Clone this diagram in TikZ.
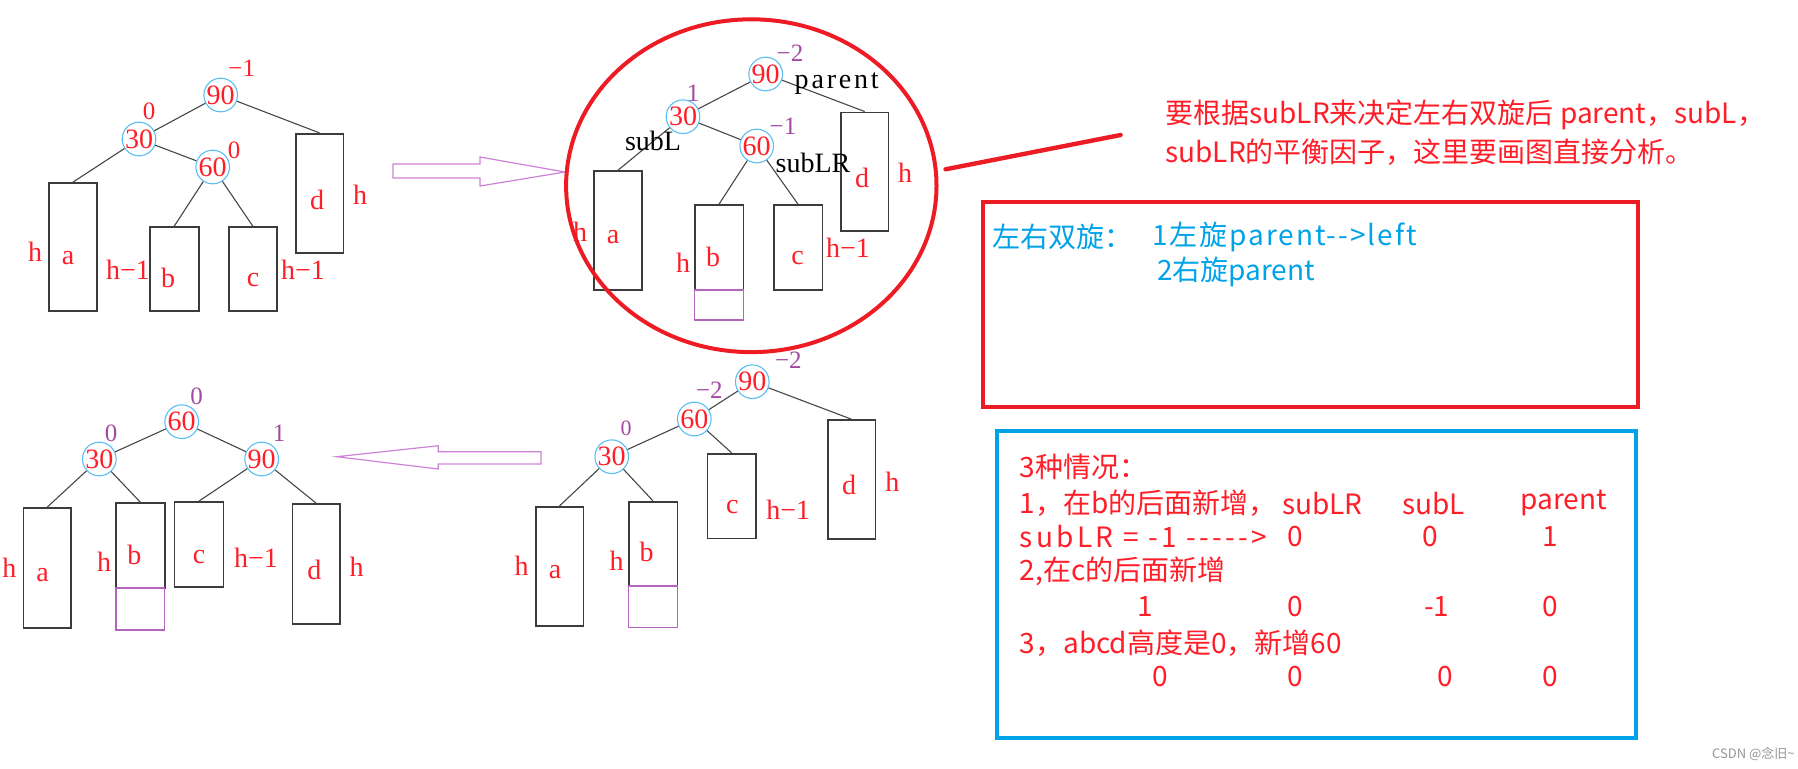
\documentclass[tikz,border=0pt]{standalone}
\usepackage{fontspec}
\setmainfont{Liberation Serif}
\newfontfamily\cjk{Noto Sans CJK SC}
\newfontfamily\cjkwide[LetterSpace=7]{Noto Sans CJK SC}
\newfontfamily\cjkmid[LetterSpace=12]{Noto Sans CJK SC}
\newfontfamily\spacedserif[LetterSpace=10]{Liberation Serif}
\usetikzlibrary{fit}
\definecolor{lblred}{RGB}{255,30,40}
\definecolor{framered}{RGB}{237,28,36}
\definecolor{numpurple}{RGB}{163,73,164}
\definecolor{arrowpurple}{RGB}{205,130,215}
\definecolor{addpurple}{RGB}{180,100,190}
\definecolor{circblue}{RGB}{90,190,240}
\definecolor{skyblue}{RGB}{0,162,232}
\definecolor{boxgray}{RGB}{60,60,60}
\definecolor{edgegray}{RGB}{70,70,70}
\definecolor{markgray}{RGB}{150,150,150}
\begin{document}
\begin{tikzpicture}[x=0.5pt,y=-0.5pt,
  treebox/.style={draw=boxgray, line width=0.8pt, inner sep=0pt},
  newbox/.style={draw=addpurple, line width=0.6pt, inner sep=0pt},
  vcirc/.style={circle, draw=circblue, line width=0.55pt, minimum size=15pt, inner sep=0pt, text=lblred, font=\fontsize{14pt}{14pt}\selectfont},
  balred/.style={inner sep=0pt, text=lblred, font=\fontsize{12.5pt}{12.5pt}\selectfont},
  balpur/.style={inner sep=0pt, text=numpurple, font=\fontsize{12.5pt}{12.5pt}\selectfont},
  lbl/.style={inner sep=0pt, text=lblred, font=\fontsize{14pt}{14pt}\selectfont},
  ptr/.style={inner sep=0pt, text=black, font=\fontsize{14pt}{14pt}\selectfont},
  edge/.style={draw=edgegray, line width=0.55pt},
  hollow/.style={draw=arrowpurple, line width=0.6pt},
  redtxt/.style={inner sep=0pt, anchor=west, text=lblred, font=\cjk\fontsize{14pt}{14pt}\selectfont},
  redcol/.style={inner sep=0pt, text=lblred, font=\cjk\fontsize{14pt}{14pt}\selectfont},
  bluetxt/.style={inner sep=0pt, anchor=west, text=skyblue, font=\cjk\fontsize{14pt}{14pt}\selectfont},
  frame/.style={line width=2pt, inner sep=0pt}
]
\useasboundingbox (0,0) rectangle (1798,768);

% ===== Tree 1 (top left) =====
\node[treebox, fit={(49,183) (96.7,311)}] (t1a) {};
\node[treebox, fit={(149.7,227) (198.7,311)}] (t1b) {};
\node[treebox, fit={(228.7,227) (277,311)}] (t1c) {};
\node[treebox, fit={(295.7,133.7) (343.3,252.7)}] (t1d) {};
\node[vcirc] (t1n90) at (220.7,95) {90};
\node[vcirc] (t1n30) at (139,139) {30};
\node[vcirc] (t1n60) at (212.7,167) {60};
\draw[edge] (t1n90) -- (t1n30);
\draw[edge] (t1n90) -- (t1d.north);
\draw[edge] (t1n30) -- (t1n60);
\draw[edge] (t1n30) -- (t1a.north);
\draw[edge] (t1n60) -- (t1b.north);
\draw[edge] (t1n60) -- (t1c.north);
\node[balred] (t1f90) at (241.7,68) {−1};
\node[balred] (t1f30) at (149,111) {0};
\node[balred] (t1f60) at (234,150) {0};
\node[lbl] (t1la) at (68,258) {a};
\node[lbl] (t1ha) at (35,252) {h};
\node[lbl] (t1lb) at (168,278) {b};
\node[lbl] (t1hb) at (128,270) {h−1};
\node[lbl] (t1lc) at (253,280) {c};
\node[lbl] (t1hc) at (303,270) {h−1};
\node[lbl] (t1ld) at (317,200) {d};
\node[lbl] (t1hd) at (360,195) {h};

% ===== arrow top =====
\draw[hollow] (393,164) -- (480,164) -- (480,157) -- (565,172) -- (480,186) -- (480,178) -- (393,178) -- cycle;

% ===== Tree 2 (top middle) =====
\node[treebox, fit={(594,171) (642,290)}] (t2a) {};
\node[treebox, fit={(694.7,205) (743.3,290)}] (t2b) {};
\node[newbox, fit={(694.7,290) (743.3,320)}] (t2new) {};
\node[treebox, fit={(773.7,205) (822.3,290)}] (t2c) {};
\node[treebox, fit={(841,112.3) (888.3,231)}] (t2d) {};
\node[vcirc] (t2n90) at (765.7,74) {90};
\node[vcirc] (t2n30) at (683,116.7) {30};
\node[vcirc] (t2n60) at (756.7,146) {60};
\draw[edge] (t2n90) -- (t2n30);
\draw[edge] (t2n90) -- (t2d.north);
\draw[edge] (t2n30) -- (t2n60);
\draw[edge] (t2n30) -- (t2a.north);
\draw[edge] (t2n60) -- (t2b.north);
\draw[edge] (t2n60) -- (t2c.north);
\node[balpur] (t2f90) at (790,53) {−2};
\node[balpur] (t2f30) at (693,93) {1};
\node[balpur] (t2f60) at (783,126.7) {−1};
\node[ptr, font=\spacedserif\fontsize{14pt}{14pt}\selectfont] (t2parent) at (836.7,84) {parent};
\node[ptr] (t2subL) at (653,141) {subL};
\node[ptr] (t2subLR) at (813,163) {subLR};
\node[lbl] (t2la) at (613,237) {a};
\node[lbl] (t2ha) at (580,231.7) {h};
\node[lbl] (t2lb) at (713,257) {b};
\node[lbl] (t2hb) at (683,263) {h};
\node[lbl] (t2lc) at (797.7,258) {c};
\node[lbl] (t2hc) at (848,248) {h−1};
\node[lbl] (t2ld) at (862,178) {d};
\node[lbl] (t2hd) at (905,173) {h};
\draw[framered, line width=2pt] (751.3,185.7) ellipse [x radius=92.6pt, y radius=83.2pt];

% ===== red pointer line and note =====
\coordinate (lineA) at (945.5,169.3);
\coordinate (lineB) at (1120.6,135);
\draw[framered, line width=2.2pt, line cap=round] (lineA) -- (lineB);
\node[redtxt] (note1) at (1165,115) {要根据subLR来决定左右双旋后 parent，subL，};
\node[redtxt] (note2) at (1165,152) {subLR的平衡因子，这里要画图直接分析。};

% ===== red frame =====
\node[frame, draw=framered, fit={(982.7,202) (1637.7,407.3)}] (redframe) {};
\node[bluetxt] (blue1) at (991.7,236.7) {左右双旋：};
\node[bluetxt, font=\cjkwide\fontsize{14pt}{14pt}\selectfont] (blue2) at (1151.7,236.7) {1左旋parent-{}->left};
\node[bluetxt] (blue3) at (1156.7,271.7) {2右旋parent};

% ===== blue frame =====
\node[frame, draw=skyblue, fit={(996.5,431) (1636,738)}] (blueframe) {};
\node[redtxt] (r1) at (1019.3,466.7) {3种情况：};
\node[redtxt] (r2) at (1019.3,503.3) {1，在b的后面新增，};
\node[redtxt] (r2a) at (1281.7,503.3) {subLR};
\node[redtxt] (r2b) at (1401.7,503.3) {subL};
\node[redtxt] (r2c) at (1520.3,503.3) {parent};
\node[redtxt, font=\cjkmid\fontsize{14pt}{14pt}\selectfont] (r3) at (1019.3,536.7) {subLR = -1 -{}-{}-{}-{}->};
\node[redcol] (r3a) at (1295,536.7) {0};
\node[redcol] (r3b) at (1430,536.7) {0};
\node[redcol] (r3c) at (1549.8,536.7) {1};
\node[redtxt] (r4) at (1019.3,571.7) {2,在c的后面新增};
\node[redcol] (r5a) at (1145,606.7) {1};
\node[redcol] (r5b) at (1295,606.7) {0};
\node[redcol] (r5c) at (1436.7,606.7) {-1};
\node[redcol] (r5d) at (1549.8,606.7) {0};
\node[redtxt] (r6) at (1019.3,643.3) {3，abcd高度是0，新增60};
\node[redcol] (r7a) at (1160,676.7) {0};
\node[redcol] (r7b) at (1295,676.7) {0};
\node[redcol] (r7c) at (1445,676.7) {0};
\node[redcol] (r7d) at (1549.8,676.7) {0};

% ===== Tree 3 (bottom left) =====
\node[treebox, fit={(23.3,508) (71,628)}] (t3a) {};
\node[treebox, fit={(116,503) (164.7,588)}] (t3b) {};
\node[newbox, fit={(116,588) (164.7,630)}] (t3new) {};
\node[treebox, fit={(174.3,502) (223.3,587)}] (t3c) {};
\node[treebox, fit={(292.3,504) (340,624)}] (t3d) {};
\node[vcirc] (t3n60) at (181.7,421.7) {60};
\node[vcirc] (t3n30) at (99.3,459) {30};
\node[vcirc] (t3n90) at (261.7,459) {90};
\draw[edge] (t3n60) -- (t3n30);
\draw[edge] (t3n60) -- (t3n90);
\draw[edge] (t3n30) -- (t3a.north);
\draw[edge] (t3n30) -- (t3b.north);
\draw[edge] (t3n90) -- (t3c.north);
\draw[edge] (t3n90) -- (t3d.north);
\node[balpur] (t3f60) at (196.7,396.7) {0};
\node[balpur] (t3f30) at (111,433) {0};
\node[balpur] (t3f90) at (279,433) {1};
\node[lbl] (t3la) at (42.7,575) {a};
\node[lbl] (t3ha) at (9.3,568) {h};
\node[lbl] (t3lb) at (134.3,555) {b};
\node[lbl] (t3hb) at (104,562) {h};
\node[lbl] (t3lc) at (199,556.7) {c};
\node[lbl] (t3hc) at (256,558) {h−1};
\node[lbl] (t3ld) at (314.3,570) {d};
\node[lbl] (t3hd) at (356.7,566.7) {h};

% ===== arrow bottom =====
\draw[hollow] (541,451.7) -- (438.3,451.7) -- (438.3,445.7) -- (336.7,456.7) -- (438.3,469) -- (438.3,464) -- (541,464) -- cycle;

% ===== Tree 4 (bottom middle) =====
\node[treebox, fit={(535.7,506.7) (583.3,626)}] (t4a) {};
\node[treebox, fit={(628.7,501.7) (677.3,586)}] (t4b) {};
\node[newbox, fit={(628.7,586) (677.3,627.7)}] (t4new) {};
\node[treebox, fit={(707.3,453.7) (756,538.3)}] (t4c) {};
\node[treebox, fit={(827.7,420) (875.3,539)}] (t4d) {};
\node[vcirc] (t4n90) at (752.3,381.7) {90};
\node[vcirc] (t4n60) at (694.3,419) {60};
\node[vcirc] (t4n30) at (611.7,456.7) {30};
\draw[edge] (t4n90) -- (t4n60);
\draw[edge] (t4n90) -- (t4d.north);
\draw[edge] (t4n60) -- (t4n30);
\draw[edge] (t4n60) -- (t4c.north);
\draw[edge] (t4n30) -- (t4a.north);
\draw[edge] (t4n30) -- (t4b.north);
\node[balpur] (t4f90) at (788.3,360) {−2};
\node[balpur] (t4f60) at (709.3,390.7) {−2};
\node[balpur, font=\fontsize{11pt}{11pt}\selectfont] (t4f30) at (626,428.3) {0};
\node[lbl] (t4la) at (555,571.7) {a};
\node[lbl] (t4ha) at (521.7,566) {h};
\node[lbl] (t4lb) at (646.7,551.7) {b};
\node[lbl] (t4hb) at (616.7,560.7) {h};
\node[lbl] (t4lc) at (732.3,506.7) {c};
\node[lbl] (t4hc) at (788.3,509.3) {h−1};
\node[lbl] (t4ld) at (849,485) {d};
\node[lbl] (t4hd) at (892.3,481.7) {h};

% ===== watermark =====
\node[inner sep=0pt, anchor=east, text=markgray, font=\cjk\fontsize{6.5pt}{6.5pt}\selectfont] (mark) at (1795,754) {CSDN @念旧\textasciitilde};
\end{tikzpicture}
\end{document}
